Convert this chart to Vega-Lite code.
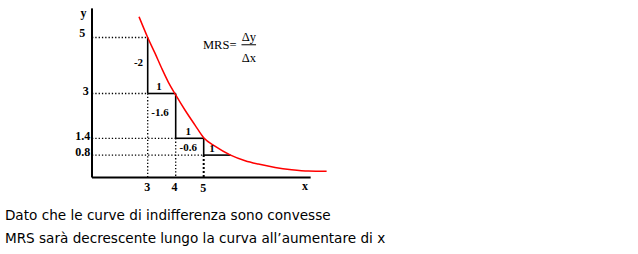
{
  "$schema": "https://vega.github.io/schema/vega-lite/v6.json",
  "width": 638,
  "height": 254,
  "autosize": {"type": "none"},
  "padding": 0,
  "background": "white",
  "config": {"view": {"stroke": null}},
  "encoding": {
    "x": {"field": "x", "type": "quantitative", "scale": {"domain": [-2.275, 20.511], "nice": false, "zero": false}, "axis": null},
    "y": {"field": "y", "type": "quantitative", "scale": {"domain": [-2.732, 6.339], "nice": false, "zero": false}, "axis": null}
  },
  "layer": [
    {
      "data": {"values": [
        {"x": 1.011, "y": 5, "x2": 3, "y2": 5},
        {"x": 1.011, "y": 3, "x2": 3, "y2": 3},
        {"x": 1.011, "y": 1.4, "x2": 4, "y2": 1.4},
        {"x": 1.011, "y": 0.8, "x2": 5, "y2": 0.8},
        {"x": 3, "y": 3, "x2": 3, "y2": 0},
        {"x": 4, "y": 1.4, "x2": 4, "y2": 0}
      ]},
      "mark": {"type": "rule", "color": "black", "strokeWidth": 1.3, "strokeDash": [1.3, 2]},
      "encoding": {"x2": {"field": "x2"}, "y2": {"field": "y2"}}
    },
    {
      "data": {"values": [
        {"x": 5, "y": 0.8, "x2": 5, "y2": 0}
      ]},
      "mark": {"type": "rule", "color": "black", "strokeWidth": 2, "strokeDash": [2, 2]},
      "encoding": {"x2": {"field": "x2"}, "y2": {"field": "y2"}}
    },
    {
      "data": {"values": [
        {"x": 3, "y": 5, "x2": 3, "y2": 3},
        {"x": 3, "y": 3, "x2": 4, "y2": 3},
        {"x": 4, "y": 3, "x2": 4, "y2": 1.4},
        {"x": 4, "y": 1.4, "x2": 5, "y2": 1.4},
        {"x": 5, "y": 1.4, "x2": 5, "y2": 0.8},
        {"x": 5, "y": 0.8, "x2": 5.96, "y2": 0.8}
      ]},
      "mark": {"type": "rule", "color": "black", "strokeWidth": 1.6},
      "encoding": {"x2": {"field": "x2"}, "y2": {"field": "y2"}}
    },
    {
      "data": {"values": [
        {"x": 1.011, "y": 6.04, "x2": 1.011, "y2": 0},
        {"x": 1.011, "y": 0, "x2": 8.82, "y2": 0}
      ]},
      "mark": {"type": "rule", "color": "black", "strokeWidth": 2},
      "encoding": {"x2": {"field": "x2"}, "y2": {"field": "y2"}}
    },
    {
      "data": {"values": [
        {"x": 2.69, "y": 5.74},
        {"x": 3.0, "y": 5.0},
        {"x": 3.26, "y": 4.44},
        {"x": 3.5, "y": 3.9},
        {"x": 3.74, "y": 3.4},
        {"x": 4.0, "y": 2.95},
        {"x": 4.33, "y": 2.41},
        {"x": 4.69, "y": 1.87},
        {"x": 5.0, "y": 1.42},
        {"x": 5.4, "y": 1.12},
        {"x": 5.96, "y": 0.8},
        {"x": 6.48, "y": 0.6},
        {"x": 6.95, "y": 0.48},
        {"x": 7.55, "y": 0.36},
        {"x": 8.14, "y": 0.28},
        {"x": 8.74, "y": 0.23},
        {"x": 9.39, "y": 0.22}
      ]},
      "mark": {"type": "line", "color": "#ff0000", "strokeWidth": 1.5, "interpolate": "monotone"},
      "encoding": {}
    },
    {
      "data": {"values": [
        {"x": 6.35, "y": 4.74, "x2": 6.87, "y2": 4.74}
      ]},
      "mark": {"type": "rule", "color": "black", "strokeWidth": 1},
      "encoding": {"x2": {"field": "x2"}, "y2": {"field": "y2"}}
    },
    {
      "data": {"values": [
        {"x": 0.71, "y": 5.89, "label": "y"},
        {"x": 0.66, "y": 5.15, "label": "5"},
        {"x": 0.79, "y": 3.1, "label": "3"},
        {"x": 0.68, "y": 1.48, "label": "1.4"},
        {"x": 0.68, "y": 0.92, "label": "0.8"},
        {"x": 2.98, "y": -0.33, "label": "3"},
        {"x": 3.96, "y": -0.33, "label": "4"},
        {"x": 4.98, "y": -0.39, "label": "5"},
        {"x": 8.62, "y": -0.3, "label": "x"}
      ]},
      "mark": {"type": "text", "font": "Liberation Serif", "fontWeight": "bold", "fontSize": 12, "color": "black", "align": "center", "baseline": "middle"},
      "encoding": {"text": {"field": "label"}}
    },
    {
      "data": {"values": [
        {"x": 2.67, "y": 4.08, "label": "-2"},
        {"x": 3.4, "y": 3.24, "label": "1"},
        {"x": 3.44, "y": 2.29, "label": "-1.6"},
        {"x": 4.45, "y": 1.64, "label": "1"},
        {"x": 4.45, "y": 1.04, "label": "-0.6"},
        {"x": 5.3, "y": 1.01, "label": "1"}
      ]},
      "mark": {"type": "text", "font": "Liberation Serif", "fontWeight": "bold", "fontSize": 11, "color": "black", "align": "center", "baseline": "middle"},
      "encoding": {"text": {"field": "label"}}
    },
    {
      "data": {"values": [
        {"x": 4.975, "y": 4.73, "label": "MRS=", "al": "left"},
        {"x": 6.61, "y": 5.0, "label": "Δy", "al": "center"},
        {"x": 6.61, "y": 4.26, "label": "Δx", "al": "center"}
      ]},
      "mark": {"type": "text", "font": "Liberation Serif", "fontSize": 12.5, "color": "black", "baseline": "middle", "align": {"expr": "datum.al"}},
      "encoding": {"text": {"field": "label"}}
    },
    {
      "data": {"values": [
        {"x": -2.1, "y": -1.375, "label": "Dato che le curve di indifferenza sono convesse"},
        {"x": -2.1, "y": -2.214, "label": "MRS sarà decrescente lungo la curva all’aumentare di x"}
      ]},
      "mark": {"type": "text", "font": "DejaVu Sans", "fontSize": 13.6, "color": "black", "align": "left", "baseline": "middle"},
      "encoding": {"text": {"field": "label"}}
    }
  ]
}
